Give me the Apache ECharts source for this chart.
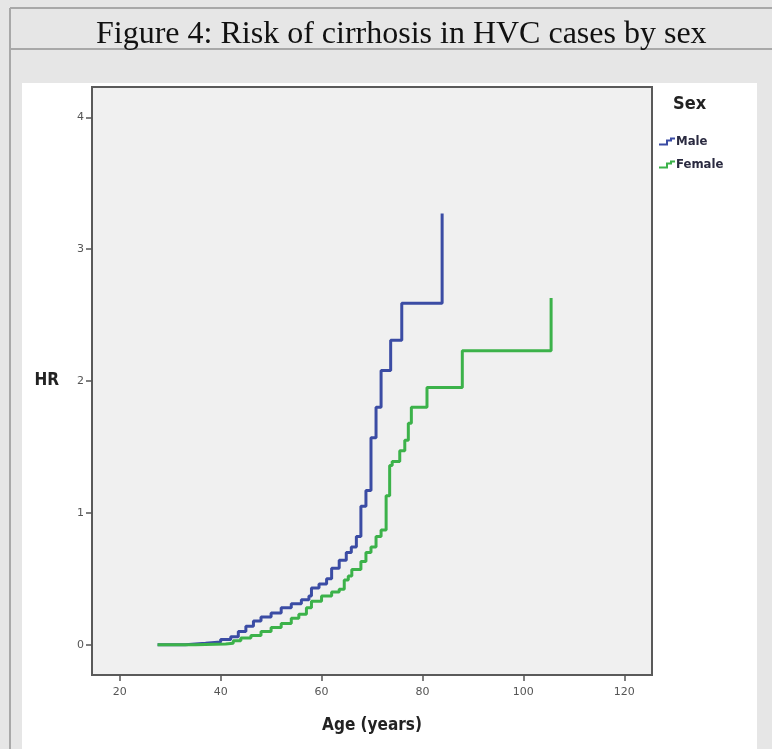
<!DOCTYPE html>
<html>
<head>
<meta charset="utf-8">
<script src="https://cdn.jsdelivr.net/npm/echarts@6.0.0/dist/echarts.min.js"></script>
<style>
  html, body { margin: 0; padding: 0; background: #e6e6e6; }
  #chart { width: 772px; height: 749px; }
</style>
</head>
<body>
<div id="chart"></div>
<script>
// cumulative hazard: age of each step, HR reached at that age
var maleAge = [27.5, 33, 37, 40, 42, 43.5, 45, 46.5, 48, 50, 52, 54, 56, 57.5, 58, 59.5, 61, 62, 63.5, 64.9, 65.9, 66.9, 67.8, 68.8, 69.8, 70.8, 71.8, 73.7, 75.9, 83.9]
var maleHR = [0, 0.01, 0.02, 0.04, 0.06, 0.1, 0.14, 0.18, 0.21, 0.24, 0.28, 0.31, 0.34, 0.37, 0.43, 0.46, 0.5, 0.58, 0.64, 0.70, 0.74, 0.82, 1.05, 1.17, 1.57, 1.80, 2.08, 2.31, 2.59, 3.27]
var femaleAge = [27.5, 35, 41, 42.5, 44, 46, 48, 50, 52, 54, 55.5, 57, 58, 60, 62, 63.5, 64.5, 65.3, 66, 67.8, 68.8, 69.8, 70.8, 71.8, 72.8, 73.5, 74, 75.5, 76.5, 77.2, 77.8, 80.9, 87.9, 105.5]
var femaleHR = [0, 0.005, 0.01, 0.03, 0.05, 0.07, 0.1, 0.13, 0.16, 0.2, 0.23, 0.28, 0.33, 0.37, 0.40, 0.42, 0.49, 0.52, 0.57, 0.63, 0.70, 0.74, 0.82, 0.87, 1.13, 1.36, 1.39, 1.47, 1.55, 1.68, 1.80, 1.95, 2.23, 2.63]

var xTicks = [20, 40, 60, 80, 100, 120]
var yTicks = [0, 1, 2, 3, 4]

function pairs(ages, hrs) {
  var out = []
  for (var i = 0; i < ages.length; i++) {
    out.push([ages[i], hrs[i]])
  }
  return out
}

var narrow = "'Liberation Sans Narrow', 'DejaVu Sans Condensed', sans-serif"
var stepIcon = 'path://M0,6 L7,6 L7,2 L11,2 L11,0 L16,0 L16,2 L13,2 L13,4 L9,4 L9,8 L0,8 Z'

var chart = echarts.init(document.getElementById('chart'))

chart.setOption({
  backgroundColor: '#e6e6e6',
  animation: false,
  title: {
    text: 'Figure 4: Risk of cirrhosis in HVC cases by sex',
    left: 91,
    top: 14,
    textStyle: {
      fontFamily: "'Liberation Serif', 'Times New Roman', serif",
      fontSize: 32,
      fontWeight: 'normal',
      color: '#111'
    }
  },
  graphic: [
    { type: 'line', shape: { x1: 10, y1: 8, x2: 772, y2: 8 }, style: { stroke: '#a8a8a8', lineWidth: 2 } },
    { type: 'line', shape: { x1: 10, y1: 49, x2: 772, y2: 49 }, style: { stroke: '#a8a8a8', lineWidth: 2 } },
    { type: 'line', shape: { x1: 10, y1: 8, x2: 10, y2: 749 }, style: { stroke: '#a8a8a8', lineWidth: 2 } },
    { type: 'rect', z: -10, shape: { x: 22, y: 83, width: 735, height: 666 }, style: { fill: '#ffffff' } },
    {
      type: 'text', left: 673, top: 95,
      style: { text: 'Sex', font: 'bold 18px ' + narrow, fill: '#222' }
    }
  ],
  legend: {
    orient: 'vertical',
    left: 654,
    top: 130,
    itemWidth: 16,
    itemHeight: 8,
    itemGap: 10,
    icon: stepIcon,
    textStyle: { fontFamily: narrow, fontWeight: 'bold', fontSize: 13, color: '#2a2a40', padding: [0, 0, 0, -4] },
    data: ['Male', 'Female']
  },
  grid: {
    left: 92,
    top: 87,
    width: 560,
    height: 588,
    show: true,
    backgroundColor: '#f0f0f0',
    borderColor: '#5a5a5a',
    borderWidth: 2
  },
  xAxis: {
    type: 'value',
    min: 14.5,
    max: 125.5,
    name: 'Age (years)',
    nameLocation: 'middle',
    nameGap: 42,
    nameTextStyle: { fontFamily: narrow, fontWeight: 'bold', fontSize: 17, color: '#222' },
    axisLine: { show: true, onZero: false, lineStyle: { color: '#5a5a5a', width: 2 } },
    splitLine: { show: false },
    axisTick: { show: true, customValues: xTicks, length: 6, lineStyle: { color: '#555', width: 1.5 } },
    axisLabel: { customValues: xTicks, margin: 12, fontSize: 11, color: '#555', fontFamily: 'DejaVu Sans' }
  },
  yAxis: {
    type: 'value',
    min: -0.23,
    max: 4.23,
    name: 'HR',
    nameLocation: 'middle',
    nameRotate: 0,
    nameGap: 33,
    nameTextStyle: { fontFamily: narrow, fontWeight: 'bold', fontSize: 17, color: '#222' },
    axisLine: { show: true, onZero: false, lineStyle: { color: '#5a5a5a', width: 2 } },
    splitLine: { show: false },
    axisTick: { show: true, customValues: yTicks, length: 6, lineStyle: { color: '#555', width: 1.5 } },
    axisLabel: { customValues: yTicks, margin: 8, fontSize: 11, color: '#555', fontFamily: 'DejaVu Sans' }
  },
  series: [
    {
      name: 'Male',
      type: 'line',
      step: 'end',
      showSymbol: false,
      symbol: 'none',
      color: '#3b4ca4',
      lineStyle: { width: 3, color: '#3b4ca4' },
      data: pairs(maleAge, maleHR)
    },
    {
      name: 'Female',
      type: 'line',
      step: 'end',
      showSymbol: false,
      symbol: 'none',
      color: '#3cb24a',
      lineStyle: { width: 3, color: '#3cb24a' },
      data: pairs(femaleAge, femaleHR)
    }
  ]
})
</script>
</body>
</html>
